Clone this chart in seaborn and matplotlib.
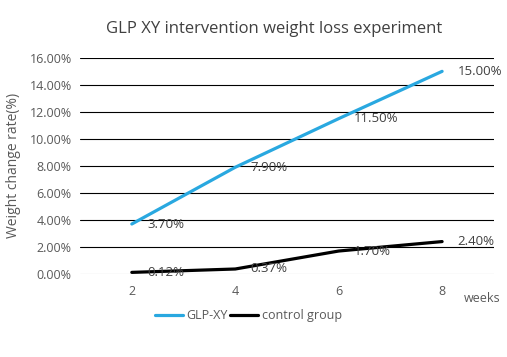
import matplotlib
matplotlib.use("Agg")
import matplotlib.pyplot as plt
import seaborn as sns
import pandas as pd
from matplotlib.ticker import FuncFormatter
from matplotlib.lines import Line2D

# data
weeks = ["2", "4", "6", "8"]
glp_xy = [3.70, 7.90, 11.50, 15.00]
control = [0.12, 0.37, 1.70, 2.40]

sns.set_style("white")
plt.rcParams['font.family'] = ['Open Sans', 'DejaVu Sans']

grey = "#595959"
blue = "#29A8E0"

df = pd.DataFrame({
    "pos": list(range(len(weeks))) * 2,
    "value": glp_xy + control,
    "group": ["GLP-XY"] * len(weeks) + ["control group"] * len(weeks),
})

fig = plt.figure(figsize=(5.07, 3.57), dpi=100)
ax = fig.add_axes([0.158, 0.2325, 0.816, 0.6055])

sns.lineplot(data=df, x="pos", y="value", hue="group",
             palette={"GLP-XY": blue, "control group": "black"},
             linewidth=2.3, ax=ax, legend=False, zorder=3)

# gridlines
for yv in range(2, 17, 2):
    ax.axhline(yv, color="black", linewidth=0.8, zorder=1)
ax.axhline(0, color="#d9d9d9", linewidth=0.9, zorder=1)

ax.set_xlim(-0.5, len(weeks) - 0.5)
ax.set_ylim(0, 16)
ax.set_xticks(range(len(weeks)))
ax.set_xticklabels(weeks)
ax.set_yticks(range(0, 17, 2))
ax.yaxis.set_major_formatter(FuncFormatter(lambda v, p: f"{v:.2f}%"))
ax.tick_params(axis="both", length=0, labelsize=9, labelcolor=grey)
ax.tick_params(axis="x", pad=8)
ax.tick_params(axis="y", pad=6)
for s in ax.spines.values():
    s.set_visible(False)

ax.set_xlabel("")
ax.set_ylabel("Weight change rate(%)", fontsize=10, color=grey, labelpad=6)

# data labels
for series in (glp_xy, control):
    for i, v in enumerate(series):
        ax.annotate(f"{v:.2f}%", (i, v), xytext=(11, 0), textcoords="offset points",
                    ha="left", va="center", fontsize=9.5, color="#404040", zorder=4)

fig.text(0.54, 0.918, "GLP XY intervention weight loss experiment",
         ha="center", va="center", fontsize=12, color="#404040")
fig.text(0.987, 0.165, "weeks", ha="right", va="center", fontsize=9, color=grey)

# legend
handles = [Line2D([], [], color=blue, linewidth=2.3),
           Line2D([], [], color="black", linewidth=2.3)]
fig.legend(handles, ["GLP-XY", "control group"], loc="center",
           bbox_to_anchor=(0.49, 0.115), ncol=2, frameon=False,
           fontsize=9, labelcolor=grey, handlelength=2.2,
           handletextpad=0.3, columnspacing=0.2)

fig.savefig("out.png", dpi=100)
